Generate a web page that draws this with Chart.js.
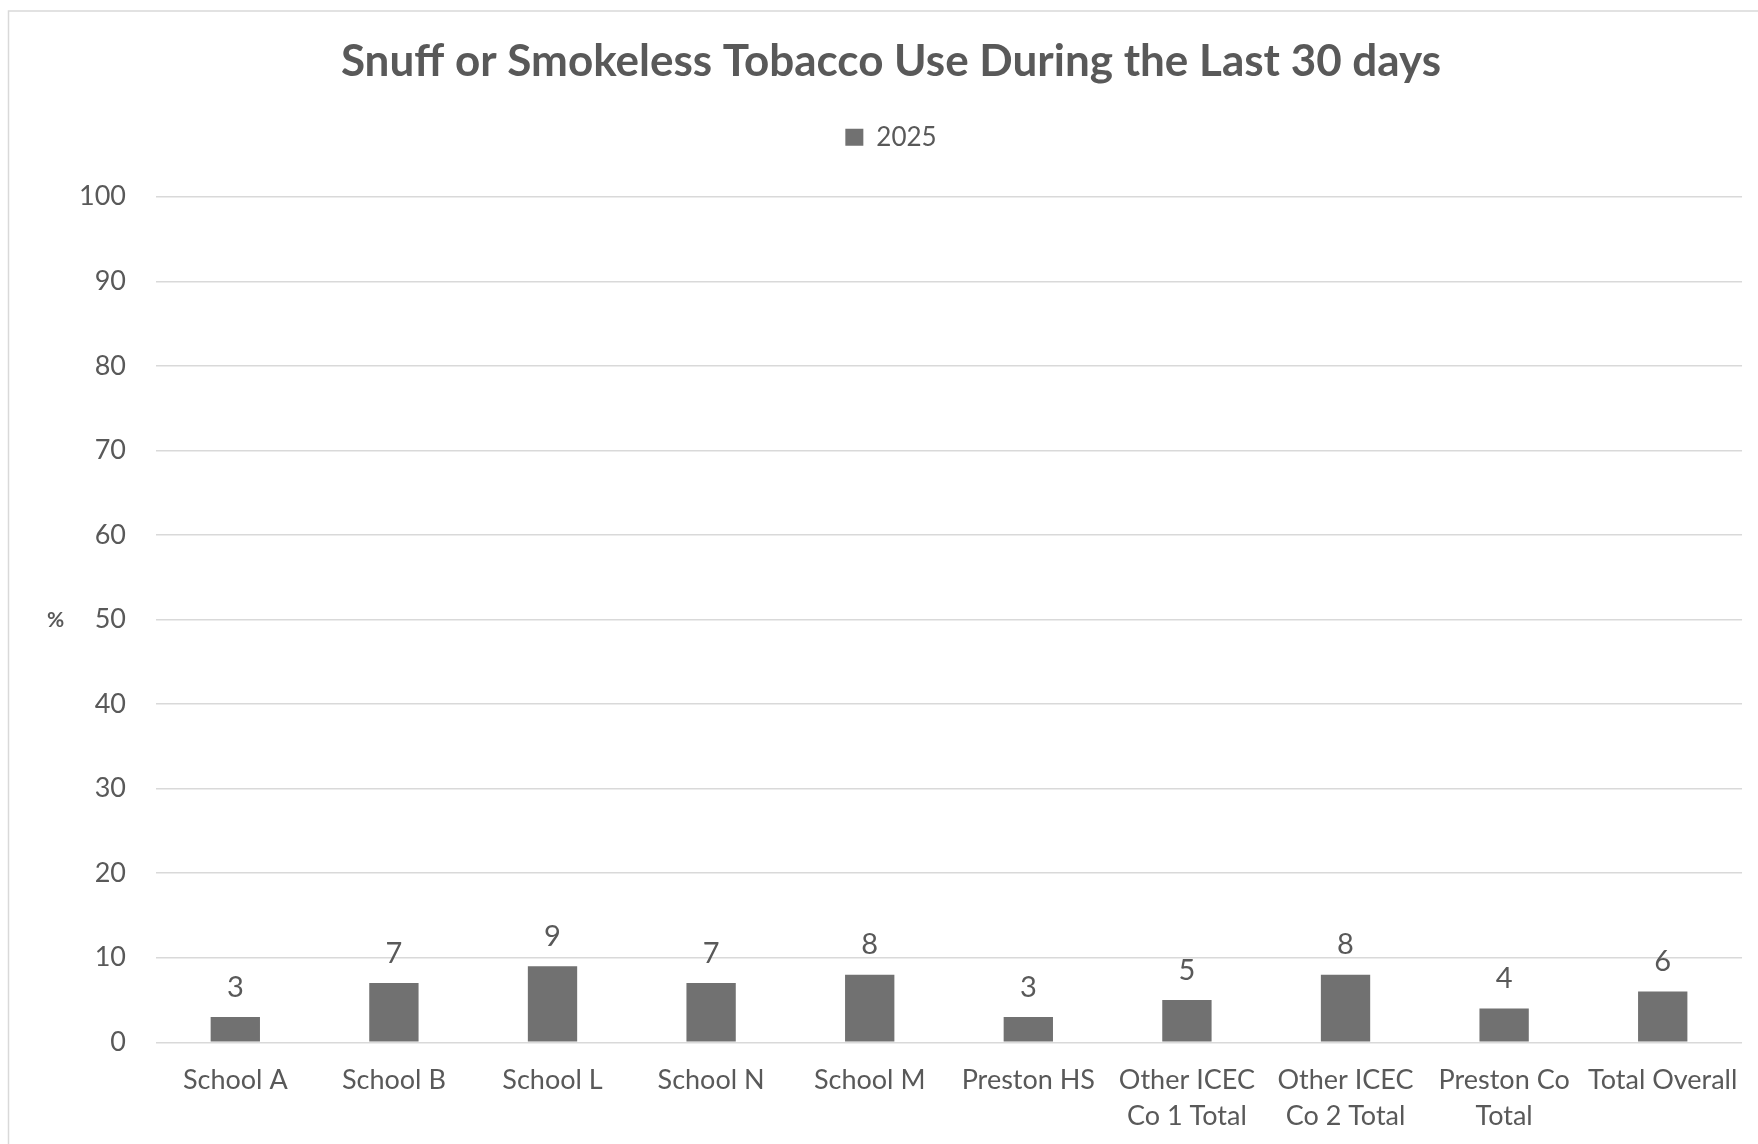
<!DOCTYPE html>
<html>
<head>
<meta charset="utf-8">
<script src="https://cdn.jsdelivr.net/npm/chart.js@4/dist/chart.umd.min.js"></script>
<style>
  html, body { margin: 0; padding: 0; background: #ffffff; overflow: hidden; }
  canvas { display: block; }
</style>
</head>
<body>
<canvas id="c" width="1758" height="1144"></canvas>
<script>
// ---- data ----
const chartTitle = 'Snuff or Smokeless Tobacco Use During the Last 30 days';
const seriesName = '2025';
const categories = [
  'School A', 'School B', 'School L', 'School N', 'School M', 'Preston HS',
  ['Other ICEC', 'Co 1 Total'], ['Other ICEC', 'Co 2 Total'], ['Preston Co', 'Total'], 'Total Overall'
];
const values = [3, 7, 9, 7, 8, 3, 5, 8, 4, 6];
const yAxisLabel = '%';
const yMin = 0;
const yMax = 100;
const yStep = 10;

// ---- styles ----
const FONT = 'Lato, "Open Sans", sans-serif';
const TEXT = '#595959';
const BAR = '#717171';
const GRID = '#d9d9d9';

const frame = {
  id: 'frame',
  beforeDraw(chart) {
    const ctx = chart.ctx;
    ctx.save();
    ctx.fillStyle = '#ffffff';
    ctx.fillRect(0, 0, chart.width, chart.height);
    ctx.strokeStyle = GRID;
    ctx.lineWidth = 1.5;
    ctx.strokeRect(8.5, 11, chart.width + 40, chart.height + 40);
    ctx.restore();
  }
};

const extras = {
  id: 'extras',
  afterDatasetsDraw(chart) {
    const ctx = chart.ctx;
    ctx.save();
    // data labels
    ctx.fillStyle = TEXT;
    ctx.font = '29px ' + FONT;
    ctx.textAlign = 'center';
    ctx.textBaseline = 'middle';
    const meta = chart.getDatasetMeta(0);
    meta.data.forEach((bar, i) => {
      ctx.fillText(String(chart.data.datasets[0].data[i]), bar.x, bar.y - 29.7);
    });
    // upright y-axis label
    const ya = chart.scales.y;
    ctx.font = 'bold 21px ' + FONT;
    ctx.fillText(yAxisLabel, 55.5, (ya.top + ya.bottom) / 2 + 1);
    ctx.restore();
  }
};

new Chart(document.getElementById('c'), {
  type: 'bar',
  data: {
    labels: categories,
    datasets: [{
      label: seriesName,
      data: values,
      backgroundColor: BAR,
      borderWidth: 0,
      categoryPercentage: 1.0,
      barPercentage: 0.311
    }]
  },
  options: {
    responsive: false,
    devicePixelRatio: 1,
    animation: false,
    layout: { padding: { left: 37, right: 13, top: 0, bottom: 0 } },
    plugins: {
      title: {
        display: true,
        text: chartTitle,
        color: TEXT,
        font: { family: FONT, size: 44, weight: 'bold', lineHeight: 1.2 },
        padding: { top: 35.6, bottom: 0 }
      },
      legend: {
        display: true,
        weight: 1800,
        labels: {
          color: TEXT,
          font: { family: FONT, size: 26 },
          boxWidth: 18,
          boxHeight: 17,
          padding: 35.8
        }
      },
      subtitle: {
        display: true,
        text: '',
        font: { size: 10, lineHeight: 1.2 },
        padding: { top: 24.5, bottom: 0 }
      },
      tooltip: { enabled: false }
    },
    scales: {
      x: {
        grid: { display: false, drawTicks: false },
        border: { display: false },
        ticks: {
          color: TEXT,
          font: { family: FONT, size: 27, lineHeight: 1.333 },
          padding: 20,
          maxRotation: 0,
          autoSkip: false
        },
        afterFit(axis) { axis.height = 101.7; }
      },
      y: {
        min: yMin,
        max: yMax,
        grid: { color: GRID, lineWidth: 1.5, drawTicks: false },
        border: { display: false },
        ticks: {
          stepSize: yStep,
          color: TEXT,
          font: { family: FONT, size: 27 },
          padding: 30
        },
        afterFit(axis) { axis.width = 119; }
      }
    }
  },
  plugins: [frame, extras]
});
</script>
</body>
</html>
